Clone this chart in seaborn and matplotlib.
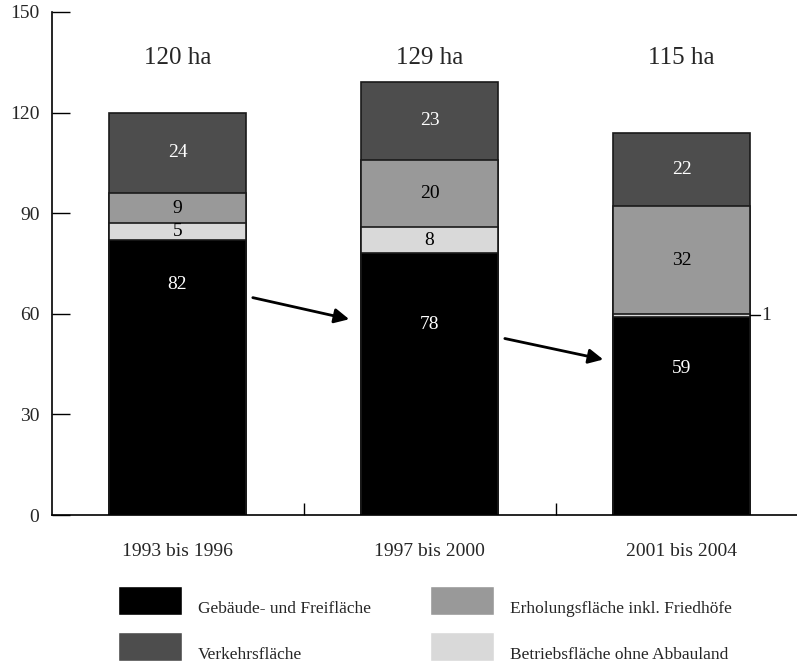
import numpy as np
import pandas as pd
import seaborn as sns
import matplotlib.pyplot as plt
from matplotlib.patches import Patch

periods = ["1993 bis 1996", "1997 bis 2000", "2001 bis 2004"]
gebaeude = [82, 78, 59]
betrieb = [5, 8, 1]
erholung = [9, 20, 32]
verkehr = [24, 23, 22]
totals = ["120 ha", "129 ha", "115 ha"]

layers = ["Gebäude- und Freifläche", "Betriebsfläche ohne Abbauland",
          "Erholungsfläche inkl. Friedhöfe", "Verkehrsfläche"]
values = [gebaeude, betrieb, erholung, verkehr]
colors = ["#000000", "#d9d9d9", "#999999", "#4d4d4d"]
text_colors = ["white", "black", "black", "white"]

sns.set_style("white")
plt.rcParams["font.family"] = ["Liberation Serif", "DejaVu Serif"]

fig = plt.figure(figsize=(7.97, 6.61), dpi=100)
ax = fig.add_axes([52 / 797, 1 - 515 / 661, 745 / 797, 503 / 661])

cum = np.cumsum(np.array(values), axis=0)
df = pd.DataFrame({"period": periods})
# draw cumulative heights from the top layer down so each layer overlays the next
for i in range(len(layers) - 1, -1, -1):
    df["h"] = cum[i]
    sns.barplot(data=df, x="period", y="h", order=periods, color=colors[i],
                saturation=1, width=0.544, edgecolor="#1a1a1a", linewidth=1.2,
                ax=ax)

# segment labels
black_label_y = [68.6, 56.7, 43.8]
for j in range(len(periods)):
    for i in range(len(layers)):
        v = values[i][j]
        top = cum[i][j]
        if i == 0:
            y = black_label_y[j]
        else:
            y = top - v / 2
        if v < 3:
            ax.plot([j + 0.272, j + 0.31], [top - v / 2, top - v / 2],
                    color="black", lw=1)
            ax.text(j + 0.315, top - v / 2, str(v), ha="left", va="center",
                    fontsize=14)
            continue
        ax.text(j, y, str(v), ha="center", va="center", fontsize=14,
                color=text_colors[i])
    ax.text(j, 136.3, totals[j], ha="center", va="center", fontsize=18)

# arrows
ax.annotate("", xy=(0.692, 58.2), xytext=(0.288, 65.0),
            arrowprops=dict(arrowstyle="-|>", color="black", lw=2,
                            mutation_scale=22))
ax.annotate("", xy=(1.70, 46.2), xytext=(1.288, 52.8),
            arrowprops=dict(arrowstyle="-|>", color="black", lw=2,
                            mutation_scale=22))

ax.set_xlim(-0.498, 2.458)
ax.set_ylim(0, 150)
ax.set_yticks([0, 30, 60, 90, 120, 150])
ax.set_xticks([0, 1, 2])
ax.set_xticks([0.5, 1.5], minor=True)
ax.set_xticklabels(periods)
ax.set_xlabel("")
ax.set_ylabel("")
ax.tick_params(axis="y", direction="in", length=13, width=1, pad=9,
               labelsize=14, left=True, color="black")
ax.tick_params(axis="x", which="major", length=0, pad=20, labelsize=14)
ax.tick_params(axis="x", which="minor", direction="in", length=9, width=1,
               bottom=True, color="black")
sns.despine(ax=ax)
for s in ["left", "bottom"]:
    ax.spines[s].set_color("black")
    ax.spines[s].set_linewidth(1.2)

# legend in two columns
leg_kw = dict(loc="upper left", frameon=False, fontsize=12.5, handlelength=3.7,
              handleheight=2.2, handletextpad=0.9, labelspacing=0.95,
              borderpad=0, borderaxespad=0)
h1 = [Patch(facecolor=colors[0]), Patch(facecolor=colors[3])]
h2 = [Patch(facecolor=colors[2]), Patch(facecolor=colors[1])]
legs = [
    fig.legend(h1, [layers[0], layers[3]],
               bbox_to_anchor=(118 / 797, 1 - 586 / 661), **leg_kw),
    fig.legend(h2, [layers[2], layers[1]],
               bbox_to_anchor=(430 / 797, 1 - 586 / 661), **leg_kw),
]
# legend text sits low, near the bottom edge of each swatch
for leg in legs:
    for t in leg.get_texts():
        t.set_y(-7)

fig.savefig("out.png", dpi=100)
